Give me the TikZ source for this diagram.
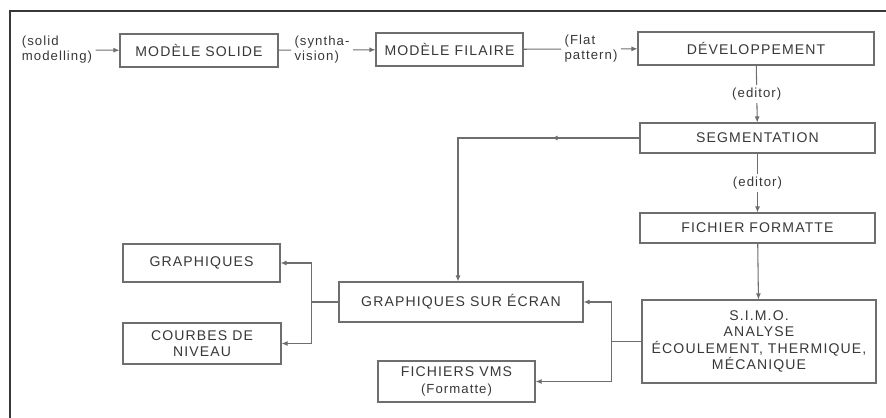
\documentclass[tikz,border=0pt]{standalone}
\usepackage{fontspec}
\setmainfont[LetterSpace=8]{Liberation Sans}
\usepackage{xcolor}
\definecolor{cInk}{HTML}{383838}
\definecolor{cLine}{HTML}{6E6E6E}
\usetikzlibrary{positioning,arrows.meta,calc,decorations.markings}
\tikzset{
  node-box/.style={draw=cLine,semithick,inner sep=0pt,align=center,
    text=cInk,font=\fontsize{8}{9.3}\selectfont},
  node-note/.style={inner sep=0pt,outer sep=0.7mm,align=left,
    text=cInk,font=\fontsize{7.5}{8.5}\selectfont},
  link/.style={draw=cLine,semithick},
  arrow/.style={link,-{Latex[length=1.2mm,width=1mm]}},
  arrow-mid/.style={postaction={decorate},decoration={markings,
    mark=at position #1 with {\arrow{Latex[length=1.2mm,width=1mm]}}}},
}

\begin{document}
\begin{tikzpicture}[x=0.2mm,y=-0.2mm]
  \useasboundingbox (0,0) rectangle (886,418);
  \draw[cInk,thick] (10,418) -- (10,11) -- (886,11);

  % chaine du haut
  \node[node-note] (solidlbl) at (57,50) {(solid\\modelling)};
  \node[node-box,minimum width=31.6mm,minimum height=6.6mm] (solide) at (199,50.5) {MODÈLE SOLIDE};
  \node[node-note] (synlbl) at (322,50) {(syntha-\\vision)};
  \node[node-box,minimum width=29.4mm,minimum height=6.6mm] (filaire) at (449.5,49.5) {MODÈLE FILAIRE};
  \node[node-note] (flatlbl) at (591,49) {(Flat\\pattern)};
  \node[node-box,minimum width=47.2mm,minimum height=6.6mm] (dev) at (756,48.5) {DÉVELOPPEMENT};

  % colonne de droite
  \node[node-box,minimum width=47mm,minimum height=6mm] (seg) at (757.5,138) {SEGMENTATION};
  \node[node-box,minimum width=47mm,minimum height=6mm] (fichier) at (757.5,228) {FICHIER FORMATTE};
  \node[node-box,minimum width=46.8mm,minimum height=16.6mm] (simo) at (759,341.5)
    {S.I.M.O.\\ANALYSE\\ÉCOULEMENT, THERMIQUE,\\MÉCANIQUE};

  % sorties
  \node[node-box,minimum width=48.8mm,minimum height=8mm] (ecran) at (461,302) {GRAPHIQUES SUR ÉCRAN};
  \node[node-box,minimum width=31.4mm,minimum height=7.6mm] (graph) at (201.5,263) {GRAPHIQUES};
  \node[node-box,minimum width=31.6mm,minimum height=8.2mm] (courbes) at (202,343.5) {COURBES DE\\NIVEAU};
  \node[node-box,minimum width=31.4mm,minimum height=8.2mm] (vms) at (456.5,381.5)
    {FICHIERS VMS\\{\fontsize{7.5}{8.5}\selectfont(Formatte)}};

  \coordinate (simobr) at ([xshift=-6mm]simo.west);
  \coordinate (ecranbr) at ([xshift=-5.4mm]ecran.west);

  \draw[arrow] (solidlbl) -- (solide);
  \draw[link] (solide) -- (synlbl);
  \draw[arrow] (synlbl) -- (filaire);
  \draw[link] (filaire) -- (flatlbl);
  \draw[arrow] (flatlbl) -- (dev);
  \draw[arrow] (dev) -- node[node-note,fill=white,outer sep=0pt,inner sep=0.5mm]{(editor)} (seg);
  \draw[arrow] (seg) -- node[node-note,fill=white,outer sep=0pt,inner sep=0.5mm]{(editor)} (fichier);
  \draw[arrow] (fichier) -- (simo);
  \draw[arrow,arrow-mid=0.27] (seg.west) -| ([xshift=-0.6mm]ecran.north);
  \draw[link] (simo) -- (simobr);
  \draw[arrow] (simobr) |- (ecran);
  \draw[arrow] (simobr) |- (vms);
  \draw[link] (ecran) -- (ecranbr);
  \draw[arrow] (ecranbr) |- (graph);
  \draw[arrow] (ecranbr) |- (courbes);
\end{tikzpicture}
\end{document}
